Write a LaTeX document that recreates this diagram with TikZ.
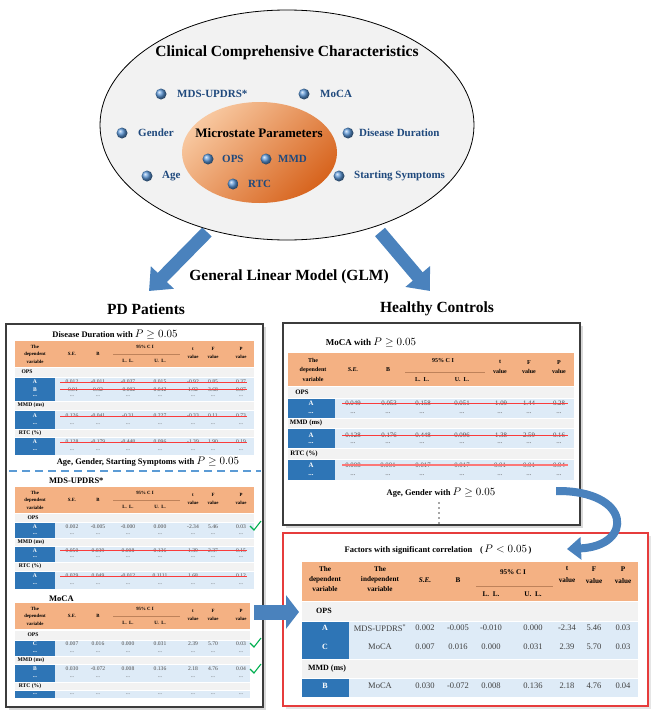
\documentclass[tikz,border=0pt]{standalone}
\usepackage{fontspec}
\setmainfont{Liberation Serif}
\usetikzlibrary{arrows.meta}

\definecolor{hdrorange}{RGB}{244,177,131}
\definecolor{hdrrule}{RGB}{190,130,90}
\definecolor{rowgray}{RGB}{242,242,242}
\definecolor{rowblue}{RGB}{222,235,247}
\definecolor{cellblue}{RGB}{46,117,182}
\definecolor{arrowblue}{RGB}{74,130,189}
\definecolor{beadblue}{RGB}{90,150,215}
\definecolor{itemblue}{RGB}{31,73,125}
\definecolor{ellgray}{RGB}{242,242,242}
\definecolor{microlight}{RGB}{248,200,160}
\definecolor{microdark}{RGB}{215,100,30}
\definecolor{strikered}{RGB}{250,60,60}
\definecolor{checkgreen}{RGB}{0,176,80}
\definecolor{boxgray}{RGB}{60,60,60}
\definecolor{boxred}{RGB}{230,60,60}
\definecolor{dashblue}{RGB}{91,155,213}

\tikzset{
  big/.style={font=\fontsize{15.5}{18}\selectfont\bfseries},
  ttl/.style={font=\fontsize{8.5}{10}\selectfont\bfseries},
  item/.style={font=\fontsize{11}{13}\selectfont\bfseries, text=itemblue, anchor=west, inner sep=0pt},
  bigarrow/.style={draw=arrowblue, line width=13pt, -{Triangle[length=19pt,width=31pt]}},
  val/.style={}, lbl/.style={}, grp/.style={}, hd/.style={}
}

\newcommand\pthresh[2]{{\fontsize{#2}{#2}\selectfont$P #1 0.05$}}
\newcommand\rowgroup[8]{%
  \fill[rowgray] (#1,#4+0.6) rectangle (#3,#5);
  \fill[rowblue] (#2,#5+0.6) rectangle (#3,#6);
  \fill[cellblue] (#1,#5+0.6) rectangle (#2,#6);
  \node[grp] at (#8,{(#4+#5)/2}) {#7};}
\newcommand\valrow[3]{%
  \foreach \v [count=\i] in {#3}{%
    \pgfmathsetmacro\cx{#2[\i-1]}%
    \node[val] at (\cx,#1) {\v};}}
\newcommand\dotrow[3]{%
  \foreach \i in {1,...,#3}{%
    \pgfmathsetmacro\cx{#2[\i-1]}%
    \node[val] at (\cx,#1) {...};}}
\newcommand\strikerow[3]{\draw[strikered, line width=0.9pt] (#1,#3) -- (#2,#3);}
\newcommand\checkmark[1]{\draw[checkgreen, line width=1.1pt] (250,#1+5) -- (254,#1+9) -- (261,#1);}
\newcommand\pdheader[2]{%
  \fill[hdrorange] (15,#1) rectangle (#2,#1+26);
  \node[hd] at (35,#1+13) {The\\dependent\\variable};
  \node[hd] at (72,#1+13) {\itshape S.E.};
  \node[hd] at (98,#1+13) {B};
  \node[hd] at (145,#1+6) {95\% C I};
  \draw[hdrrule, line width=0.5pt] (113,#1+13) -- (180,#1+13);
  \node[hd] at (128,#1+20) {L.\ \ L.};
  \node[hd] at (160,#1+20) {U.\ \ L.};
  \node[hd] at (193,#1+12) {t\\value};
  \node[hd] at (213,#1+12) {F\\value};
  \node[hd] at (241,#1+12) {P\\value};}

\def\pdcols{{72,98,128,160,193,213,241}}
\def\hccols{{353,388,422,462,500,529,559}}
\def\redcols{{380,425,458,491,533,567,594,623}}

\begin{document}
\begin{tikzpicture}[x=1pt,y=-1pt]
\useasboundingbox (0,0) rectangle (657,712);

\coordinate (pdtail) at (207,232);
\coordinate (pdtip) at (149,291);
\coordinate (hctail) at (380,232);
\coordinate (hctip) at (430,291);
\draw[bigarrow] (pdtail) -- (pdtip);
\draw[bigarrow] (hctail) -- (hctip);

\draw[black, fill=ellgray, line width=0.8pt] (287,125) ellipse [x radius=187, y radius=115];
\shade[top color=microlight, bottom color=microdark, shading angle=45]
  (259.5,152.5) ellipse [x radius=77.5, y radius=50.5];
\node[big] (ccc) at (287,53) {Clinical Comprehensive Characteristics};
\node[font=\fontsize{13}{15}\selectfont\bfseries] (micro) at (259,133) {Microstate Parameters};
\foreach \bx/\by/\tx/\lbl [count=\k] in {161/94/177/MDS-UPDRS*, 304/94/320/MoCA,
    122/133/138/Gender, 348/133/359/Disease Duration, 147/176/162/Age,
    339/176/354/Starting Symptoms, 208/159/222/OPS, 266/159/278/MMD, 233/184/248/RTC}{
  \shade[ball color=beadblue] (\bx,\by) circle (5.5);
  \node[item] (item\k) at (\tx,\by) {\lbl};
}

\node[big] (glm) at (289,277) {General Linear Model (GLM)};
\node[big] (pd) at (146,309) {PD Patients};
\node[big] (hc) at (437,309) {Healthy Controls};

\fill[black!15] (9,327) rectangle (266,710);
\filldraw[fill=white, draw=boxgray, line width=1.3pt] (6,324) rectangle (263,707);
\fill[black!15] (286,326) rectangle (583,528);
\filldraw[fill=white, draw=boxgray, line width=1.3pt] (283,323) rectangle (580,525);
\fill[black!10] (286,536) rectangle (651,709);
\filldraw[fill=white, draw=boxred, line width=1.2pt] (283,533) rectangle (648,706);

\begin{scope}[val/.style={font=\fontsize{5.6}{6}\selectfont, text=black!70},
    lbl/.style={font=\fontsize{5.6}{6}\selectfont\bfseries, text=white},
    grp/.style={font=\fontsize{5.6}{6}\selectfont\bfseries},
    hd/.style={font=\fontsize{4.8}{7.6}\selectfont\bfseries, align=center}]
  \node[ttl] (ddtitle) at (115,334) {Disease Duration with \pthresh{\geq}{11}};
  \pdheader{341}{254}
  \rowgroup{15}{55}{254}{367}{377}{401}{OPS}{27}
  \node[lbl] at (35,382) {A}; \node[lbl] at (35,389.5) {B}; \node[lbl] at (35,396.5) {...};
  \valrow{382}{\pdcols}{0.012,-0.011,-0.037,0.015,-0.92,0.85,0.37}
  \valrow{389.5}{\pdcols}{-0.01,0.02,-0.002,0.042,1.92,3.68,0.07}
  \strikerow{60}{247}{382} \strikerow{60}{247}{389.5}
  \dotrow{396.5}{\pdcols}{7}
  \rowgroup{15}{55}{254}{401}{410}{429}{MMD (ms)}{31}
  \node[lbl] at (35,416) {A}; \node[lbl] at (35,424.5) {...};
  \valrow{416}{\pdcols}{0.126,-0.041,-0.31,0.227,-0.33,0.11,0.73}
  \strikerow{60}{247}{416}
  \dotrow{424.5}{\pdcols}{7}
  \rowgroup{15}{55}{254}{429}{437}{455}{RTC (\%)}{30}
  \node[lbl] at (35,442) {A}; \node[lbl] at (35,450.5) {...};
  \valrow{442}{\pdcols}{0.128,-0.179,-0.448,0.096,-1.39,1.90,0.19}
  \strikerow{60}{247}{442}
  \dotrow{450.5}{\pdcols}{7}

  \node[ttl] (agetitle) at (148,462) {Age, Gender, Starting Symptoms with \pthresh{\geq}{11}};
  \draw[dashblue, line width=1.3pt, dash pattern=on 8pt off 5pt] (9,471) -- (261,471);

  \node[ttl, anchor=west, inner sep=0pt] (updrs) at (49,481) {MDS-UPDRS*};
  \pdheader{487}{254}
  \rowgroup{15}{55}{254}{513}{522}{538}{OPS}{33}
  \node[lbl] at (35,527) {A}; \node[lbl] at (35,534.5) {...};
  \valrow{527}{\pdcols}{0.002,-0.005,-0.000,0.000,-2.34,5.46,0.03}
  \dotrow{534.5}{\pdcols}{7}
  \checkmark{521}
  \rowgroup{15}{55}{254}{538}{546}{562}{MMD (ms)}{31}
  \node[lbl] at (35,550.5) {A}; \node[lbl] at (35,557.5) {...};
  \valrow{550.5}{\pdcols}{0.050,0.039,0.008,0.136,1.39,2.37,0.15}
  \strikerow{60}{247}{550.5}
  \dotrow{557.5}{\pdcols}{7}
  \rowgroup{15}{55}{254}{562}{571}{589}{RTC (\%)}{30}
  \node[lbl] at (35,576) {A}; \node[lbl] at (35,584.5) {...};
  \valrow{576}{\pdcols}{0.029,0.049,-0.012,0.1111,1.68,,0.12}
  \strikerow{60}{247}{576}
  \dotrow{584.5}{\pdcols}{7}

  \node[ttl, anchor=west, inner sep=0pt] (moca) at (49,599) {MoCA};
  \pdheader{603}{250}
  \rowgroup{15}{55}{250}{630}{640}{656}{OPS}{33}
  \node[lbl] at (35,644) {C}; \node[lbl] at (35,652) {...};
  \valrow{644}{\pdcols}{0.007,0.016,0.000,0.031,2.39,5.70,0.03}
  \dotrow{652}{\pdcols}{7}
  \checkmark{638}
  \rowgroup{15}{55}{250}{656}{664}{682}{MMD (ms)}{31}
  \node[lbl] at (35,669) {B}; \node[lbl] at (35,677) {...};
  \valrow{669}{\pdcols}{0.030,-0.072,0.008,0.136,2.18,4.76,0.04}
  \dotrow{677}{\pdcols}{7}
  \checkmark{664}
  \rowgroup{15}{55}{250}{682}{690}{698}{RTC (\%)}{30}
  \node[lbl] at (35,694) {...};
  \dotrow{694}{\pdcols}{7}
\end{scope}

\begin{scope}[val/.style={font=\fontsize{6.8}{7}\selectfont, text=black!70},
    lbl/.style={font=\fontsize{6.8}{7}\selectfont\bfseries, text=white},
    grp/.style={font=\fontsize{6.8}{7}\selectfont\bfseries},
    hd/.style={font=\fontsize{6}{9.5}\selectfont\bfseries, align=center}]
  \node[ttl, font=\fontsize{9}{10}\selectfont\bfseries] (hctitle) at (371,342) {MoCA with \pthresh{\geq}{10.5}};
  \fill[hdrorange] (288,353) rectangle (574,386);
  \node[hd] at (313,369.5) {The\\dependent\\variable};
  \node[hd] at (353,370) {\itshape S.E.};
  \node[hd] at (388,370) {B};
  \node[hd] at (443,361) {95\% C I};
  \draw[hdrrule, line width=0.5pt] (405,372) -- (485,372);
  \node[hd] at (422,380) {L.\ \ L.};
  \node[hd] at (462,380) {U.\ \ L.};
  \node[hd] at (500,367) {t\\value};
  \node[hd] at (529,367) {F\\value};
  \node[hd] at (559,367) {P\\value};
  \rowgroup{288}{335}{574}{386}{398}{418}{OPS}{302}
  \node[lbl] at (311,403) {A}; \node[lbl] at (311,413) {...};
  \valrow{403}{\hccols}{0.049,-0.053,-0.158,0.051,-1.09,1.44,0.28}
  \strikerow{342}{568}{403}
  \dotrow{413}{\hccols}{7}
  \rowgroup{288}{335}{574}{418}{428}{448}{MMD (ms)}{306}
  \node[lbl] at (311,435) {A}; \node[lbl] at (311,443) {...};
  \valrow{435}{\hccols}{0.128,-0.176,-0.448,0.096,-1.38,2.59,0.16}
  \strikerow{342}{568}{435}
  \dotrow{443}{\hccols}{7}
  \rowgroup{288}{335}{574}{448}{459}{480}{RTC (\%)}{304}
  \node[lbl] at (311,465) {A}; \node[lbl] at (311,475) {...};
  \valrow{465}{\hccols}{0.008,0.001,-0.017,0.017,0.01,0.01,0.94}
  \draw[strikered!70, line width=1.4pt] (342,465) -- (568,465);
  \dotrow{475}{\hccols}{7}
  \node[ttl] (hcrest) at (441,493) {Age, Gender with \pthresh{\geq}{10.5}};
  \foreach \k in {0,...,4} \fill[black!70] (439,503+5*\k) circle (0.8);
\end{scope}

\begin{scope}[val/.style={font=\fontsize{8.5}{9}\selectfont, text=black!75},
    lbl/.style={font=\fontsize{8}{9}\selectfont\bfseries, text=white},
    grp/.style={font=\fontsize{8}{9}\selectfont\bfseries},
    hd/.style={font=\fontsize{7.2}{10}\selectfont\bfseries, align=center}]
  \node[ttl] (sigtitle) at (438,550) {Factors with significant correlation\hspace{8pt}(\,\pthresh{<}{10.5}\,)};
  \fill[hdrorange] (302,562) rectangle (638,601);
  \node[hd] at (325,579) {The\\dependent\\variable};
  \node[hd] at (380,579) {The\\independent\\variable};
  \node[hd] at (425,580) {\itshape S.E.};
  \node[hd] at (458,580) {B};
  \node[hd] at (513,572) {95\% C I};
  \draw[hdrrule, line width=0.5pt] (476,586) -- (553,586);
  \node[hd] at (491,594) {L.\ \ L.};
  \node[hd] at (533,594) {U.\ \ L.};
  \node[hd] at (567,575) {t\\[2pt]value};
  \node[hd] at (594,575) {F\\[2pt]value};
  \node[hd] at (623,575) {P\\[2pt]value};
  \rowgroup{302}{349}{638}{601}{621}{659}{OPS}{324}
  \node[lbl] at (325,628) {A}; \node[lbl] at (325,647) {C};
  \valrow{628}{\redcols}{MDS-UPDRS\textsuperscript{*},0.002,-0.005,-0.010,0.000,-2.34,5.46,0.03}
  \valrow{647}{\redcols}{MoCA,0.007,0.016,0.000,0.031,2.39,5.70,0.03}
  \rowgroup{302}{349}{638}{659}{678}{697}{MMD (ms)}{327}
  \node[lbl] at (325,686) {B};
  \valrow{686}{\redcols}{MoCA,0.030,-0.072,0.008,0.136,2.18,4.76,0.04}
\end{scope}

\coordinate (pdout) at (254,612);
\coordinate (redin) at (299,612);
\draw[draw=arrowblue, line width=15pt, -{Triangle[length=13pt,width=33pt]}] (pdout) -- (redin);
\coordinate (hcout) at (556,491);
\coordinate (redtop) at (567,549);
\draw[draw=arrowblue, line width=8pt, -{Triangle[length=14pt,width=22pt]}]
  (hcout) .. controls (632,490) and (634,546) .. (redtop);
\end{tikzpicture}
\end{document}
